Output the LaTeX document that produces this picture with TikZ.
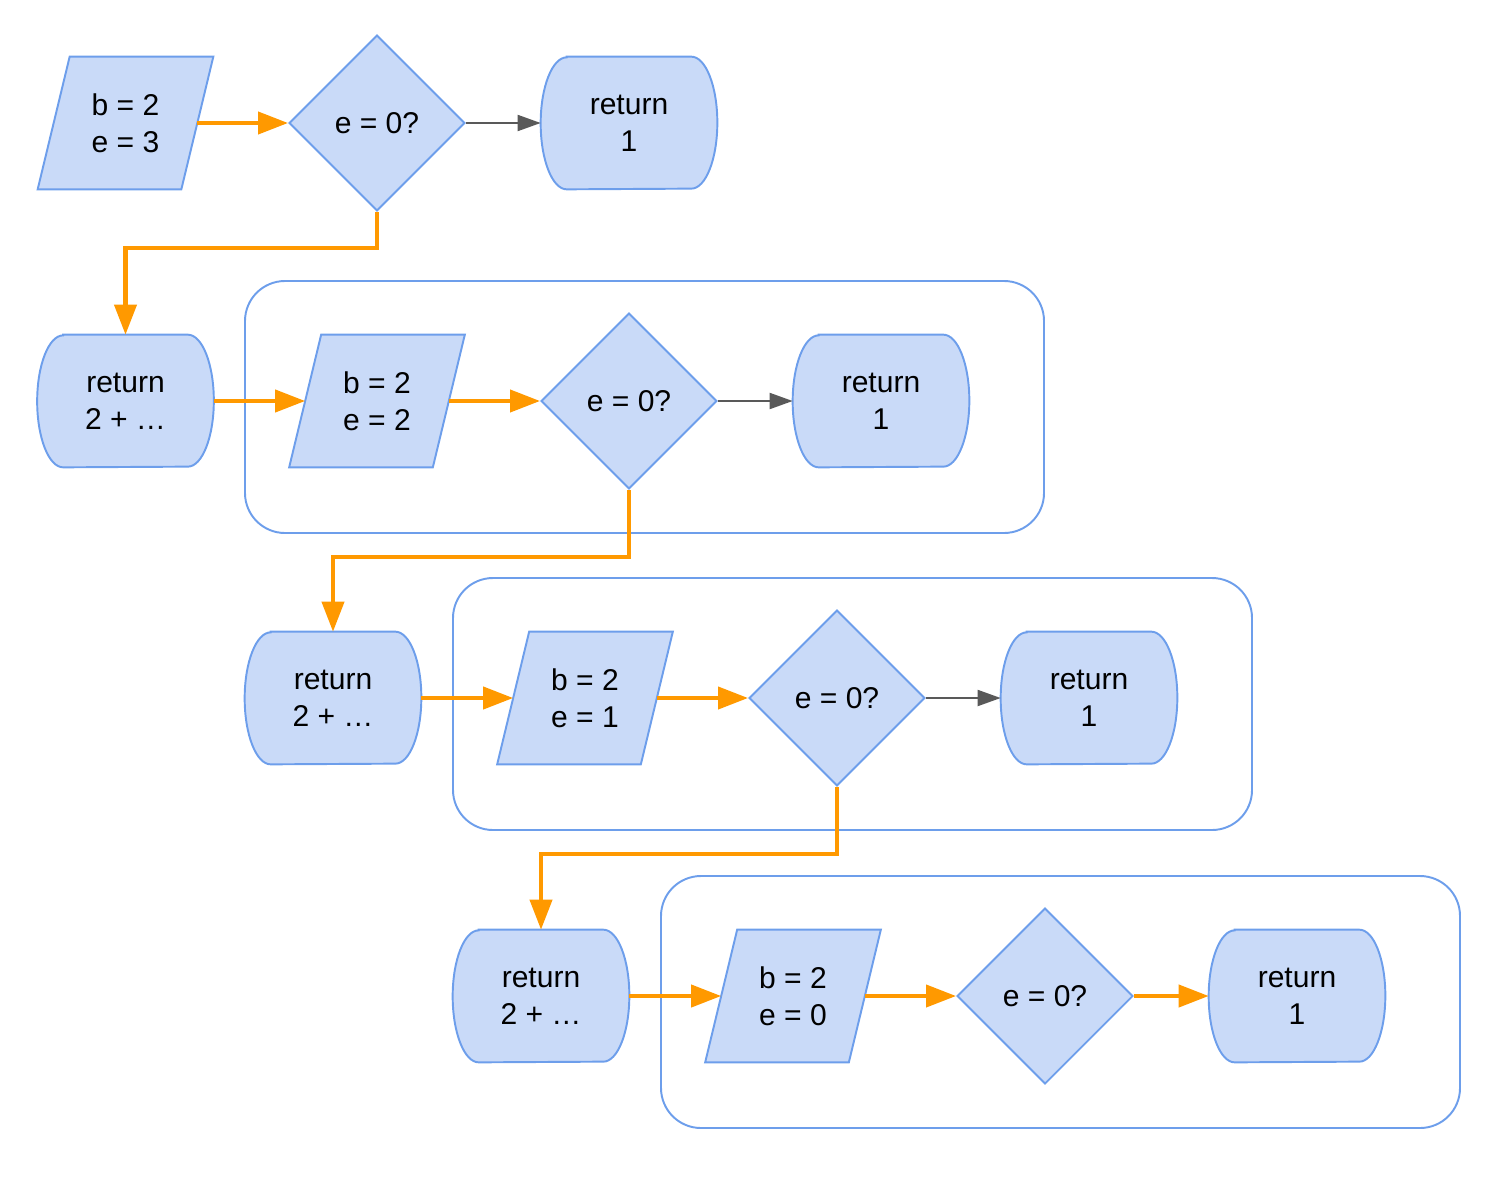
\documentclass[tikz,border=0pt]{standalone}
\usepackage{fontspec}
\setmainfont{Liberation Sans}
\usetikzlibrary{shapes.geometric, arrows.meta, backgrounds}

\definecolor{cellfill}{HTML}{C9DAF8}
\definecolor{cellline}{HTML}{6D9EEB}
\definecolor{takenline}{HTML}{FF9900}
\definecolor{skipline}{HTML}{595959}

\tikzset{
    label text/.style={font=\fontsize{17.1}{21.3}\selectfont, align=center, inner sep=0pt},
    args/.style={label text, rectangle, minimum width=3.5cm, minimum height=2.64cm},
    test/.style={label text, diamond, minimum width=3.52cm, minimum height=3.52cm,
        draw=cellline, fill=cellfill, line width=1.1pt},
    ret/.style={label text, rectangle, minimum width=3.52cm, minimum height=2.64cm},
    cellbox/.style={draw=cellline, fill=cellfill, line width=1.1pt},
    callframe/.style={draw=cellline, line width=1.1pt, rounded corners=0.8cm},
    taken/.style={draw=takenline, line width=2.3pt, -{Triangle[length=0.6cm, width=0.44cm]}},
    skipped/.style={draw=skipline, line width=1.1pt, -{Triangle[length=0.46cm, width=0.32cm]}},
}

\begin{document}
\begin{tikzpicture}[x=0.02cm, y=-0.02cm]
    \def\rx{0.52cm}     % side bulge of the return boxes
    \def\ry{1.32cm}     % half height of the return boxes
    \def\sl{0.64cm}     % slant of the argument boxes
    \useasboundingbox (0,0) rectangle (1506,1176);
    % first call
    \node[args] (args1) at (125.5,123) {b = 2\\e = 3};
    \node[test] (test1) at (377,123) {e = 0?};
    \node[ret] (base1) at (629,123) {return\\1};
    % second call
    \node[ret] (rec2) at (125.5,401) {return\\2 + \dots};
    \node[args] (args2) at (377,401) {b = 2\\e = 2};
    \node[test] (test2) at (629,401) {e = 0?};
    \node[ret] (base2) at (881,401) {return\\1};
    % third call
    \node[ret] (rec3) at (333,698) {return\\2 + \dots};
    \node[args] (args3) at (585,698) {b = 2\\e = 1};
    \node[test] (test3) at (837,698) {e = 0?};
    \node[ret] (base3) at (1089,698) {return\\1};
    % fourth call
    \node[ret] (rec4) at (541,996) {return\\2 + \dots};
    \node[args] (args4) at (793,996) {b = 2\\e = 0};
    \node[test] (test4) at (1045,996) {e = 0?};
    \node[ret] (base4) at (1297,996) {return\\1};
    % frames, argument and return boxes go underneath
    \begin{scope}[on background layer]
        \draw[callframe] (245,281) rectangle (1044,533);
        \draw[callframe] (453,578) rectangle (1252,830);
        \draw[callframe] (661,876) rectangle (1460,1128);
        \foreach \n in {args1, args2, args3, args4}
            \draw[cellbox] ([xshift=\sl]\n.north west) -- (\n.north east)
                -- ([xshift=-\sl]\n.south east) -- (\n.south west) -- cycle;
        \foreach \n in {base1, base2, base3, base4, rec2, rec3, rec4}
            \draw[cellbox] ([xshift=\rx]\n.north west) -- ([xshift=-\rx]\n.north east)
                arc[start angle=90, end angle=-90, x radius=\rx, y radius=\ry]
                -- ([xshift=\rx]\n.south west)
                arc[start angle=270, end angle=90, x radius=\rx, y radius=\ry] -- cycle;
    \end{scope}
    % connectors
    \draw[taken] ([xshift=-\sl/2]args1.east) -- (test1);
    \draw[skipped] (test1) -- (base1);
    \draw[taken] (test1.south) -- ++(0,36) -| (rec2.north);
    \draw[taken] (rec2) -- ([xshift=\sl/2]args2.west);
    \draw[taken] ([xshift=-\sl/2]args2.east) -- (test2);
    \draw[skipped] (test2) -- (base2);
    \draw[taken] (test2.south) -- ++(0,67) -| (rec3.north);
    \draw[taken] (rec3) -- ([xshift=\sl/2]args3.west);
    \draw[taken] ([xshift=-\sl/2]args3.east) -- (test3);
    \draw[skipped] (test3) -- (base3);
    \draw[taken] (test3.south) -- ++(0,67) -| (rec4.north);
    \draw[taken] (rec4) -- ([xshift=\sl/2]args4.west);
    \draw[taken] ([xshift=-\sl/2]args4.east) -- (test4);
    \draw[taken] (test4) -- (base4);
\end{tikzpicture}
\end{document}
